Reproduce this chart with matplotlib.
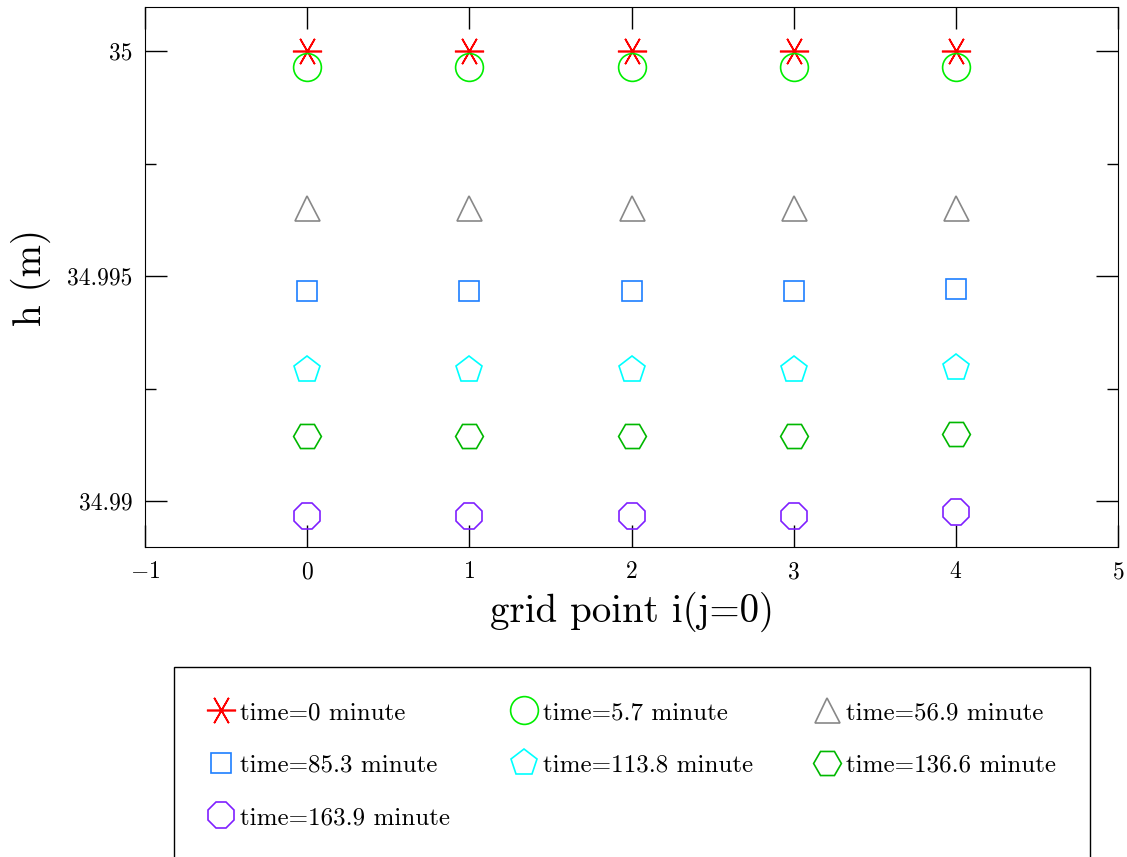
import numpy as np
import matplotlib
matplotlib.use("Agg")
import matplotlib.pyplot as plt
from matplotlib.ticker import MultipleLocator

plt.rcParams['font.family'] = 'serif'
plt.rcParams['font.serif'] = ['cmr10', 'DejaVu Serif']
plt.rcParams['mathtext.fontset'] = 'cm'
plt.rcParams['axes.formatter.use_mathtext'] = True

# surface height at grid points i = 0..4 (j = 0) for several output times
grid_i = [0, 1, 2, 3, 4]
times = ["0", "5.7", "56.9", "85.3", "113.8", "136.6", "163.9"]
h_t0 = [35.0, 35.0, 35.0, 35.0, 35.0]
h_t5 = [34.99964, 34.99964, 34.99964, 34.99964, 34.99964]
h_t57 = [34.99651, 34.99651, 34.99651, 34.99651, 34.99652]
h_t85 = [34.99467, 34.99467, 34.99467, 34.99467, 34.99471]
h_t114 = [34.99291, 34.99291, 34.99291, 34.99291, 34.99296]
h_t137 = [34.99144, 34.99144, 34.99144, 34.99144, 34.99150]
h_t164 = [34.98967, 34.98967, 34.98967, 34.98967, 34.98976]

series = [h_t0, h_t5, h_t57, h_t85, h_t114, h_t137, h_t164]
markers = [(6, 2, 90), 'o', '^', 's', 'p', 'H', '8']
sizes = [21, 20, 18, 14.5, 20, 20, 20]
colors = ['#ff0000', '#00ee00', '#888888', '#1e7fff', '#00ffff', '#00b800', '#7f1fff']

fig = plt.figure(figsize=(11.27, 8.57), dpi=100)
ax = fig.add_axes([0.1287, 0.3617, 0.8633, 0.6301])

handles = []
for t, h, m, ms, c in zip(times, series, markers, sizes, colors):
    ln, = ax.plot(grid_i, h, linestyle='none', marker=m, markersize=ms,
                  markerfacecolor='none', markeredgecolor=c, markeredgewidth=1.2,
                  label='time=%s minute' % t)
    handles.append(ln)

ax.set_xlim(-1, 5)
ax.set_ylim(34.98898, 35.00098)
ax.set_xticks([-1, 0, 1, 2, 3, 4, 5])
ax.set_yticks([34.99, 34.995, 35.0])
ax.set_yticklabels(['34.99', '34.995', '35'])
ax.yaxis.set_minor_locator(MultipleLocator(0.0025))
ax.tick_params(which='both', direction='in', top=True, right=True, labelsize=17)
ax.tick_params(which='major', length=16, width=1)
ax.tick_params(which='minor', length=8, width=1)
ax.tick_params(axis='x', pad=10)
ax.tick_params(axis='y', pad=9)
ax.set_xlabel('grid point i(j=0)', fontsize=28, labelpad=6)
ax.set_ylabel('h (m)', fontsize=28, labelpad=12)

# row-wise legend order with three columns
order = [0, 3, 6, 1, 4, 2, 5]
leg = fig.legend([handles[k] for k in order], [handles[k].get_label() for k in order],
                 ncol=3, loc='upper left', bbox_to_anchor=(0.1545, 0.0, 0.8127, 0.2217),
                 mode='expand', fontsize=18, frameon=True, fancybox=False,
                 framealpha=1, edgecolor='black', borderpad=1.38, labelspacing=1.2,
                 handletextpad=0.25, handlelength=1.0, borderaxespad=0,
                 columnspacing=1.0)
leg.get_frame().set_linewidth(1.0)

fig.savefig('out.png', dpi=100)
